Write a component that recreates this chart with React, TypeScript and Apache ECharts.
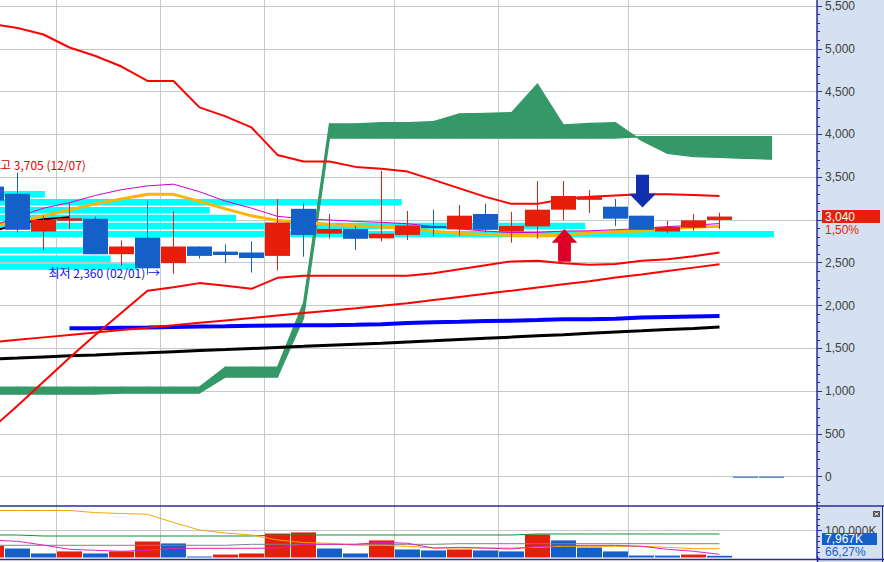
import React, { useEffect, useRef } from "react";
import * as echarts from "echarts";

// ---- slots (weekly candles). slot -1 is partly off-screen; 28-29 are placeholders ----
const slots = [-1, 0, 1, 2, 3, 4, 5, 6, 7, 8, 9, 10, 11, 12, 13, 14, 15, 16, 17, 18, 19, 20, 21, 22, 23, 24, 25, 26, 27, 28, 29];

const opens = [3390, 3305, 2865, 2990, 3015, 2600, 2795, 2495, 2690, 2630, 2620, 2580, 3130, 2840, 2895, 2785, 2825, 2930, 2890, 3070, 2865, 2925, 3120, 3235, 3155, 3050, 2865, 2910, 3000, 0, 0];
const closes = [3225, 2885, 3000, 3020, 2600, 2690, 2435, 2690, 2580, 2590, 2555, 2970, 2825, 2895, 2780, 2840, 2935, 2905, 3050, 2885, 2930, 3120, 3280, 3275, 3015, 2885, 2920, 2995, 3040, 0, 0];
const lows = [3180, 2855, 2650, 2890, 2600, 2465, 2360, 2370, 2550, 2495, 2385, 2410, 2570, 2780, 2650, 2750, 2765, 2805, 2815, 2855, 2735, 2780, 2995, 3080, 2930, 2885, 2845, 2875, 2895, 0, 0];
const highs = [3420, 3555, 3050, 3195, 3040, 2760, 3225, 3100, 2690, 2715, 2750, 3245, 3195, 3070, 2930, 3575, 3105, 3120, 3175, 3190, 3095, 3455, 3455, 3350, 3245, 3050, 2990, 3070, 3085, 0, 0];

// volume in K, slots -1..27
const volumes = [44000, 34500, 16500, 24000, 16500, 24000, 60000, 53000, 5500, 12500, 16500, 89000, 93000, 34500, 16500, 64000, 31000, 27500, 31000, 27500, 24000, 85500, 64000, 38000, 24000, 9000, 8800, 12500, 7967];

// price overlays, slots -1..27
const bbUpper = [5290, 5243, 5167, 5015, 4916, 4793, 4624, 4624, 4315, 4210, 4081, 3760, 3682, 3682, 3620, 3597, 3565, 3468, 3369, 3270, 3188, 3188, 3246, 3270, 3287, 3301, 3301, 3293, 3281];
const bbMid = [2925, 3036, 3138, 3202, 3287, 3354, 3398, 3418, 3330, 3220, 3138, 3042, 3015, 3000, 2983, 2972, 2956, 2922, 2896, 2870, 2852, 2855, 2870, 2873, 2886, 2898, 2922, 2938, 2958];
const bbLower = [560, 829, 1109, 1390, 1658, 1915, 2172, 2213, 2262, 2230, 2195, 2324, 2347, 2347, 2347, 2347, 2347, 2376, 2423, 2470, 2516, 2522, 2493, 2476, 2484, 2522, 2542, 2575, 2619];
const maOrange = [2943, 2977, 3048, 3118, 3188, 3246, 3301, 3299, 3217, 3129, 3048, 2993, 2972, 2948, 2931, 2919, 2902, 2867, 2841, 2830, 2820, 2814, 2820, 2849, 2864, 2872, 2896, 2916, 2925];
const maBlackShort = [2861, 2954, 3007, 3033];
const maRed = [1570, 1599, 1628, 1656, 1684, 1713, 1741, 1769, 1798, 1826, 1854, 1884, 1912, 1940, 1968, 1997, 2027, 2064, 2101, 2138, 2174, 2212, 2249, 2285, 2328, 2363, 2403, 2443, 2483];
const maBlue = [null, null, null, 1736, 1736, 1740, 1743, 1748, 1755, 1757, 1763, 1767, 1769, 1771, 1775, 1781, 1795, 1804, 1810, 1818, 1822, 1830, 1839, 1841, 1847, 1859, 1865, 1871, 1877];
const maBlack = [1374, 1386, 1399, 1412, 1423, 1436, 1448, 1461, 1474, 1485, 1498, 1511, 1523, 1536, 1548, 1560, 1574, 1588, 1603, 1617, 1631, 1646, 1660, 1676, 1690, 1704, 1719, 1733, 1748];

// cloud spans, slots -1..29
const cloudSpanA = [1047, 1047, 1047, 1047, 1047, 1047, 1047, 1047, 1047, 1281, 1281, 1281, 2030, 4122, 4122, 4137, 4137, 4149, 4239, 4247, 4254, 4589, 4110, 4128, 4137, 3929, 3778, 3740, 3731, 3719, 3710];
const cloudSpanB = [966, 966, 966, 966, 966, 977, 977, 977, 977, 1164, 1164, 1164, 1850, 3957, 3957, 3957, 3957, 3957, 3957, 3957, 3957, 3957, 3957, 3957, 3957, 3974, 3974, 3974, 3974, 3974, 3974];

// volume overlays (K), slots -1..27
const volMaMagenta = [65000, 60700, 47000, 31600, 28000, 24400, 28000, 35300, 35300, 35300, 35300, 36000, 49800, 49800, 49800, 57000, 53500, 36000, 38900, 36000, 32700, 41800, 46000, 46000, 46000, 42500, 31600, 24400, 13500];
const volMaOrange = [172700, 172700, 172700, 172700, 165000, 161800, 159000, 129000, 101800, 91000, 83600, 65500, 56400, 53500, 46200, 46200, 42500, 36400, 36400, 36400, 36400, 38900, 42500, 42500, 42500, 42500, 38900, 33800, 33800];
const volMaGreen = [83600, 83600, 80000, 80000, 80000, 80000, 80000, 80000, 80000, 80000, 80000, 83600, 83600, 83600, 83600, 83600, 83600, 83600, 83600, 83600, 83600, 87300, 87300, 87300, 87300, 87300, 87300, 87300, 87300];
const volMaGray = [46200, 46200, 46200, 46200, 46200, 46200, 46200, 46200, 46200, 46200, 49800, 49800, 49800, 49800, 49800, 49800, 49800, 49800, 52000, 52000, 52000, 52000, 52000, 52000, 52000, 52000, 52000, 52000, 52000];

// price-by-volume profile (band centre price, relative volume %)
const profilePrices = [3300, 3207, 3113, 3023, 2929, 2834, 2645, 2547, 2456];
const profileVolumes = [5.8, 51.9, 27.1, 30.5, 75.6, 100, 10.7, 14.3, 17.7];

// signal arrows [slot, tip price]
const upArrows = [[21, 2895]];
const downArrows = [[24, 3145]];

// axis ticks (3,000 label sits under the current-price box)
const priceTicks = [0, 500, 1000, 1500, 2000, 2500, 3000, 3500, 4000, 4500, 5000, 5500];
const priceLabels = [0, 500, 1000, 1500, 2000, 2500, 3500, 4000, 4500, 5000, 5500];
const volumeTicks = [100000];
const monthStarts = [1.5, 5.5, 9.5, 14.5, 18.5, 23.5];

// ---- layout constants ----
const PLOT_W = 817;
const MAIN_H = 506;
const SLOT_PX = 26;
const X_MIN = -17.5 / SLOT_PX;
const X_MAX = X_MIN + PLOT_W / SLOT_PX;
const PX_PER_UNIT = 470.7 / 5500;
const Y_MIN = -(MAIN_H - 476.7) / PX_PER_UNIT;
const Y_MAX = 5500 + 6 / PX_PER_UNIT;
const VOL_TOP = 506;
const VOL_H = 52;
const VOL_MAX = (VOL_H / 27.5) * 100000;
const PROFILE_STEP = 94.5;

const RED = "#e61e0a";
const BLUE = "#155fc8";
const NAVY = "#2b2b9c";
const GRID = "#c8c8c8";
const CLOUD = "#349868";
const AXIS_FONT = "'Liberation Sans Narrow','Liberation Sans',Arial,sans-serif";
const KR_FONT = "'Noto Sans CJK KR','Noto Sans',sans-serif";

const fmt = (v: number) => Math.round(v).toLocaleString("en-US");
const pairs = (vals: (number | null)[]) =>
  vals.map((v, i) => [slots[i], v]).filter((p) => p[1] !== null);

function buildOption() {
  const minorPrice: number[] = [];
  for (let v = -300; v <= 5500; v += 100) minorPrice.push(v);
  const minorVol: number[] = [];
  for (let v = 0; v <= 180000; v += 20000) minorVol.push(v);

  const candleData = slots.map((s, i) => [s, opens[i], closes[i], lows[i], highs[i]]);
  const volData = volumes.map((v, i) => [slots[i], v, i === 0 || v > volumes[i - 1] ? 1 : 0]);
  const cloudData = cloudSpanA.slice(0, -1).map((a, i) => [
    slots[i], a, cloudSpanB[i], slots[i + 1], cloudSpanA[i + 1], cloudSpanB[i + 1],
  ]);
  const profileData = profilePrices.map((p, i) => [p, profileVolumes[i]]);
  const arrowData = [
    ...upArrows.map((a) => [a[0], a[1], 1]),
    ...downArrows.map((a) => [a[0], a[1], -1]),
  ];

  const line = (data: any[], color: string, width: number, z = 3, x = 0, y = 0) => ({
    type: "line",
    xAxisIndex: x,
    yAxisIndex: y,
    data,
    symbol: "none",
    silent: true,
    z,
    lineStyle: { color, width },
  });

  const minorAxis = (gridIndex: number, min: number, max: number, values: number[]) => ({
    type: "value", gridIndex, position: "left", offset: -PLOT_W, min, max,
    axisLine: { show: false, onZero: false },
    axisTick: { show: true, inside: true, length: 3, customValues: values, lineStyle: { color: NAVY } },
    axisLabel: { show: false }, splitLine: { show: false },
  });

  return {
    animation: false,
    backgroundColor: "transparent",
    grid: [
      { left: 0, top: 0, width: PLOT_W, height: MAIN_H, outerBoundsMode: "none", containLabel: false },
      { left: 0, top: VOL_TOP, width: PLOT_W, height: VOL_H, outerBoundsMode: "none", containLabel: false },
    ],
    xAxis: [
      {
        type: "value", gridIndex: 0, min: X_MIN, max: X_MAX,
        axisLine: { show: false, onZero: false }, axisLabel: { show: false },
        axisTick: { show: false, customValues: monthStarts },
        splitLine: { show: true, lineStyle: { color: GRID, width: 1 } },
      },
      {
        type: "value", gridIndex: 0, min: 0, max: (PLOT_W / 774) * 100, show: false,
        axisLine: { onZero: false },
      },
      {
        type: "value", gridIndex: 1, min: X_MIN, max: X_MAX,
        axisLine: { show: false, onZero: false }, axisLabel: { show: false },
        axisTick: { show: false, customValues: monthStarts },
        splitLine: { show: true, lineStyle: { color: GRID, width: 1 } },
      },
    ],
    yAxis: [
      {
        type: "value", gridIndex: 0, position: "right", min: Y_MIN, max: Y_MAX,
        axisLine: { show: true, onZero: false, lineStyle: { color: NAVY, width: 1.5 } },
        axisTick: { show: true, inside: false, length: 5, customValues: priceTicks, lineStyle: { color: NAVY } },
        axisLabel: {
          show: true, customValues: priceLabels, margin: 8, color: "#404040",
          fontSize: 12, fontFamily: AXIS_FONT, formatter: (v: number) => fmt(v),
        },
        splitLine: { show: true, lineStyle: { color: GRID, width: 1 } },
      },
      minorAxis(0, Y_MIN, Y_MAX, minorPrice),
      {
        type: "value", gridIndex: 1, position: "right", min: 0, max: VOL_MAX,
        axisLine: { show: true, onZero: false, lineStyle: { color: NAVY, width: 1.5 } },
        axisTick: { show: true, inside: false, length: 5, customValues: volumeTicks, lineStyle: { color: NAVY } },
        axisLabel: {
          show: true, customValues: volumeTicks, margin: 8, color: "#404040",
          fontSize: 12, lineHeight: 10, fontFamily: AXIS_FONT, padding: [0, 0, 8, 0],
          formatter: (v: number) => fmt(v) + "K",
        },
        splitLine: { show: true, lineStyle: { color: GRID, width: 1 } },
      },
      minorAxis(1, 0, VOL_MAX, minorVol),
    ],
    series: [
      // price-by-volume bands
      {
        type: "custom", xAxisIndex: 1, yAxisIndex: 0, z: 1, silent: true,
        data: profileData, encode: { x: 1, y: 0 },
        renderItem: (params: any, api: any) => {
          const p = api.value(0);
          const v = api.value(1);
          const a = api.coord([0, p - PROFILE_STEP / 2]);
          const b = api.coord([v, p + PROFILE_STEP / 2]);
          const h = a[1] - b[1];
          return {
            type: "rect",
            shape: { x: a[0], y: b[1] + 0.85, width: b[0] - a[0], height: h - 1.7 },
            style: { fill: "#00ffff" },
          };
        },
      },
      // cloud: one quad per slot interval between span A and span B
      {
        type: "custom", xAxisIndex: 0, yAxisIndex: 0, z: 2, silent: true,
        data: cloudData, encode: { x: [0, 3], y: [1, 2, 4, 5] },
        renderItem: (params: any, api: any) => {
          const x0 = api.value(0), a0 = api.value(1), b0 = api.value(2);
          const x1 = api.value(3), a1 = api.value(4), b1 = api.value(5);
          return {
            type: "polygon",
            shape: { points: [api.coord([x0, a0]), api.coord([x1, a1]), api.coord([x1, b1]), api.coord([x0, b0])] },
            style: { fill: CLOUD, stroke: CLOUD, lineWidth: 1.2, lineJoin: "round" },
          };
        },
      },
      line(pairs(maBlack), "#000000", 3),
      line(pairs(maBlue), "#0000ff", 4),
      line(pairs(maRed), "#ff0000", 2),
      line(pairs(bbLower), "#ff0000", 2),
      line(pairs(bbUpper), "#ff0000", 2),
      line(pairs(maOrange), "#ffb400", 3),
      line(pairs(bbMid), "#d000d0", 1),
      line(pairs(maBlackShort), "#000000", 2),
      // candles
      {
        type: "custom", xAxisIndex: 0, yAxisIndex: 0, z: 5, silent: true,
        data: candleData, encode: { x: 0, y: [1, 2, 3, 4] },
        renderItem: (params: any, api: any) => {
          const x = api.value(0);
          const o = api.value(1), c = api.value(2), l = api.value(3), h = api.value(4);
          const pO = api.coord([x, o]);
          const pC = api.coord([x, c]);
          const pL = api.coord([x, l]);
          const pH = api.coord([x, h]);
          const w = api.size([1, 0])[0] - 1;
          const color = c > o ? RED : BLUE;
          const cx = Math.round(pO[0] - 0.5) + 0.5;
          const top = Math.min(pO[1], pC[1]);
          const bh = Math.max(1, Math.abs(pO[1] - pC[1]));
          return {
            type: "group",
            children: [
              { type: "line", shape: { x1: cx, y1: pH[1], x2: cx, y2: pL[1] }, style: { stroke: color, lineWidth: 1 } },
              { type: "rect", shape: { x: cx - w / 2, y: top, width: w, height: bh }, style: { fill: color } },
            ],
          };
        },
      },
      // signal arrows
      {
        type: "custom", xAxisIndex: 0, yAxisIndex: 0, z: 6, silent: true,
        data: arrowData, encode: { x: 0, y: 1 },
        renderItem: (params: any, api: any) => {
          const p = api.coord([api.value(0), api.value(1)]);
          const dir = api.value(2);
          const x = p[0] + 1;
          const y = p[1];
          if (dir > 0) {
            return {
              type: "polygon",
              shape: {
                points: [
                  [x, y], [x + 12.8, y + 13.7], [x + 6.4, y + 13.7], [x + 6.4, y + 32.7],
                  [x - 6.4, y + 32.7], [x - 6.4, y + 13.7], [x - 12.8, y + 13.7],
                ],
              },
              style: { fill: "#dc0028" },
            };
          }
          return {
            type: "polygon",
            shape: {
              points: [
                [x, y], [x + 13.5, y - 13.7], [x + 6.5, y - 13.7], [x + 6.5, y - 32.7],
                [x - 6.5, y - 32.7], [x - 6.5, y - 13.7], [x - 13.5, y - 13.7],
              ],
            },
            style: { fill: "#1030b0" },
          };
        },
      },
      // volume bars
      {
        type: "custom", xAxisIndex: 2, yAxisIndex: 2, z: 2, silent: true,
        data: volData, encode: { x: 0, y: 1 },
        renderItem: (params: any, api: any) => {
          const x = api.value(0);
          const v = api.value(1);
          const a = api.coord([x, 0]);
          const b = api.coord([x, v]);
          const w = api.size([1, 0])[0] - 1;
          const cx = Math.round(a[0] - 0.5) + 0.5;
          return {
            type: "rect",
            shape: { x: cx - w / 2, y: b[1], width: w, height: a[1] - b[1] - 0.5 },
            style: { fill: api.value(2) ? RED : BLUE },
          };
        },
      },
      line(pairs(volMaGray), "#808080", 1, 3, 2, 2),
      line(pairs(volMaGreen), "#109030", 1, 3, 2, 2),
      line(pairs(volMaOrange), "#f0a800", 1, 3, 2, 2),
      line(pairs(volMaMagenta), "#e020c0", 1, 3, 2, 2),
    ],
    graphic: {
      elements: [
        { type: "line", z: 50, shape: { x1: 0, y1: 506, x2: 884, y2: 506 }, style: { stroke: NAVY, lineWidth: 1.5 } },
        { type: "line", z: 50, shape: { x1: 0, y1: 559.5, x2: 884, y2: 559.5 }, style: { stroke: NAVY, lineWidth: 1.5 } },
        { type: "line", z: 50, shape: { x1: 882.5, y1: 506, x2: 882.5, y2: 562 }, style: { stroke: NAVY, lineWidth: 1 } },
        { type: "line", z: 50, shape: { x1: 817.5, y1: 556, x2: 817.5, y2: 562 }, style: { stroke: NAVY, lineWidth: 1.5 } },
        // current price box
        { type: "rect", z: 60, shape: { x: 822, y: 210, width: 58, height: 13 }, style: { fill: RED } },
        { type: "text", z: 61, x: 825, y: 216.5, style: { text: "3,040", fill: "#ffffff", font: `12px ${AXIS_FONT}`, lineHeight: 10, textVerticalAlign: "middle" } },
        { type: "text", z: 61, x: 825, y: 229.5, style: { text: "1,50%", fill: RED, font: `12px ${AXIS_FONT}`, lineHeight: 10, textVerticalAlign: "middle" } },
        // current volume box
        { type: "rect", z: 60, shape: { x: 822, y: 533, width: 55, height: 12 }, style: { fill: BLUE } },
        { type: "text", z: 61, x: 825, y: 539.2, style: { text: "7,967K", fill: "#ffffff", font: `12px ${AXIS_FONT}`, lineHeight: 10, textVerticalAlign: "middle" } },
        { type: "text", z: 61, x: 825, y: 552, style: { text: "66,27%", fill: BLUE, font: `12px ${AXIS_FONT}`, lineHeight: 10, textVerticalAlign: "middle" } },
        // close icon
        { type: "rect", z: 60, shape: { x: 873, y: 511, width: 7, height: 6 }, style: { fill: "#505050" } },
        { type: "line", z: 61, shape: { x1: 874.5, y1: 512.5, x2: 878.5, y2: 515.5 }, style: { stroke: "#ffffff", lineWidth: 1 } },
        { type: "line", z: 61, shape: { x1: 878.5, y1: 512.5, x2: 874.5, y2: 515.5 }, style: { stroke: "#ffffff", lineWidth: 1 } },
        // high / low annotations (the high label runs off the left edge, as in the source)
        { type: "text", z: 61, x: -11, y: 164.5, style: { text: "최고 3,705 (12/07)", fill: "#e00000", font: `12px ${KR_FONT}`, textVerticalAlign: "middle" } },
        { type: "text", z: 61, x: 160, y: 272.5, style: { text: "최저 2,360 (02/01) →", fill: "#1010e8", font: `12px ${KR_FONT}`, textVerticalAlign: "middle", textAlign: "right" } },
      ],
    },
  };
}

export default function App() {
  const ref = useRef<HTMLDivElement>(null);
  useEffect(() => {
    const chart = echarts.init(ref.current!, null, { renderer: "svg" });
    chart.setOption(buildOption() as any);
    return () => chart.dispose();
  }, []);
  return (
    <div
      ref={ref}
      style={{
        position: "fixed",
        left: 0,
        top: 0,
        width: 884,
        height: 562,
        background: "linear-gradient(to right,#ffffff 0px,#ffffff 817px,#d5e1f0 817px,#d5e1f0 884px)",
      }}
    />
  );
}
